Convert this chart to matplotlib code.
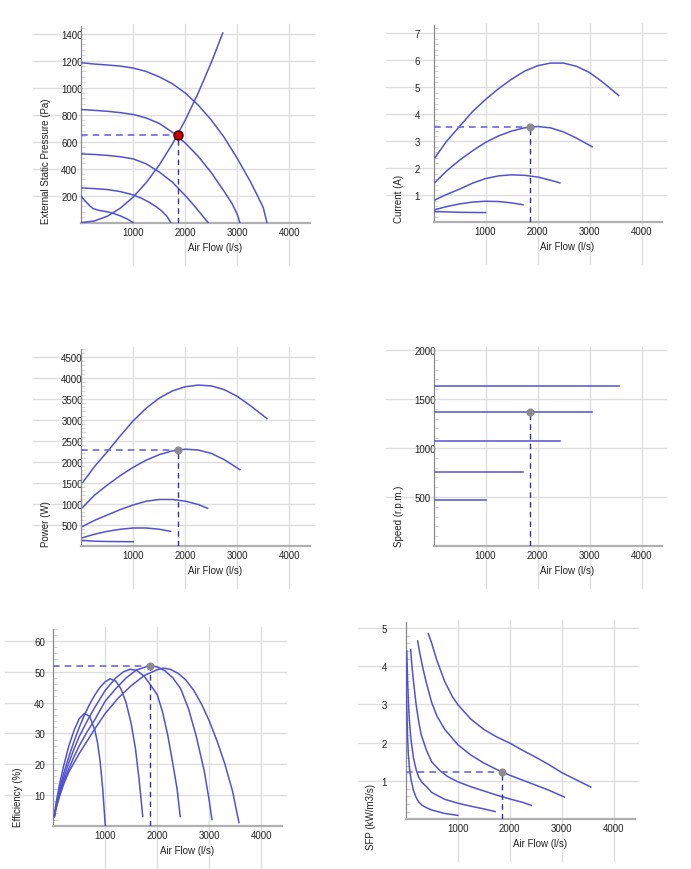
import matplotlib

matplotlib.use("Agg")
import matplotlib.pyplot as plt
from matplotlib.ticker import FixedLocator, MultipleLocator

plt.rcParams["font.family"] = ["Liberation Sans", "DejaVu Sans"]

# shared x tick values (l/s)
flow_ticks = [1000, 2000, 3000, 4000]

# --- external static pressure (Pa), five fan speeds + system curve
pressure_flow = [
    [0, 250, 500, 750, 1000, 1250, 1500, 1750, 2000, 2250, 2500, 2750, 3000, 3250, 3400, 3500, 3570],
    [0, 250, 500, 750, 1000, 1250, 1500, 1750, 2000, 2250, 2500, 2750, 2900, 3000, 3050],
    [0, 250, 500, 750, 1000, 1250, 1500, 1750, 2000, 2150, 2300, 2440],
    [0, 250, 500, 750, 1000, 1150, 1300, 1450, 1550, 1650, 1720],
    [0, 50, 100, 160, 230, 350, 490, 620, 750, 880, 1000],
]
pressure_values = [
    [1185, 1175, 1168, 1160, 1145, 1120, 1080, 1030, 960, 870, 760, 630, 475, 305, 190, 110, 0],
    [838, 832, 825, 815, 801, 775, 735, 670, 590, 490, 370, 230, 140, 60, 0],
    [509, 505, 498, 488, 472, 435, 375, 300, 200, 135, 65, 0],
    [257, 252, 245, 230, 205, 182, 152, 115, 85, 45, 0],
    [195, 170, 150, 125, 103, 90, 81, 68, 50, 27, 0],
]
system_flow = [0, 250, 500, 750, 1000, 1250, 1500, 1750, 2000, 2250, 2500, 2720]
system_pressure = [0, 12, 47, 107, 190, 297, 427, 582, 760, 962, 1187, 1405]

# --- current (A)
current_flow = [
    [30, 250, 500, 750, 1000, 1250, 1500, 1750, 2000, 2250, 2500, 2750, 3000, 3250, 3560],
    [30, 250, 500, 750, 1000, 1250, 1500, 1750, 2000, 2250, 2500, 2750, 3050],
    [30, 250, 500, 750, 1000, 1250, 1500, 1750, 2000, 2250, 2430],
    [30, 250, 500, 750, 1000, 1250, 1500, 1720],
    [30, 500, 1000],
]
current_values = [
    [2.4, 3.0, 3.55, 4.1, 4.55, 4.95, 5.3, 5.6, 5.8, 5.9, 5.9, 5.78, 5.55, 5.2, 4.7],
    [1.48, 1.9, 2.3, 2.65, 2.96, 3.2, 3.38, 3.5, 3.55, 3.5, 3.35, 3.12, 2.8],
    [0.83, 1.03, 1.23, 1.45, 1.62, 1.72, 1.76, 1.74, 1.68, 1.56, 1.46],
    [0.47, 0.58, 0.68, 0.75, 0.78, 0.77, 0.72, 0.65],
    [0.40, 0.37, 0.36],
]

# --- power (W)
power_flow = [
    [30, 250, 500, 750, 1000, 1250, 1500, 1750, 2000, 2250, 2500, 2750, 3000, 3250, 3570],
    [30, 250, 500, 750, 1000, 1250, 1500, 1750, 2000, 2250, 2500, 2750, 3050],
    [30, 250, 500, 750, 1000, 1250, 1500, 1750, 2000, 2250, 2430],
    [30, 250, 500, 750, 1000, 1250, 1500, 1720],
    [30, 250, 500, 750, 1000],
]
power_values = [
    [1510, 1880, 2240, 2620, 2980, 3280, 3520, 3690, 3790, 3830, 3810, 3720, 3560, 3340, 3030],
    [915, 1200, 1445, 1670, 1870, 2040, 2170, 2260, 2300, 2280, 2200, 2050, 1810],
    [460, 600, 730, 860, 970, 1060, 1100, 1100, 1060, 980, 890],
    [190, 270, 340, 390, 420, 420, 390, 340],
    [125, 105, 98, 95, 93],
]

# --- speed (r.p.m.)
speed_flow = [[30, 3560], [30, 3050], [30, 2430], [30, 1720], [30, 1000]]
speed_values = [[1630, 1630], [1372, 1372], [1069, 1069], [757, 757], [471, 471]]

# --- efficiency (%)
efficiency_flow = [
    [20, 60, 120, 200, 300, 400, 500, 650, 800, 1000, 1250, 1500, 1750, 2000, 2115, 2250, 2400,
     2550, 2700, 2850, 3000, 3150, 3300, 3450, 3570],
    [20, 60, 120, 200, 300, 400, 500, 650, 800, 1000, 1200, 1400, 1600, 1850, 2000, 2150, 2300,
     2450, 2600, 2750, 2900, 3000, 3050],
    [20, 60, 120, 200, 300, 400, 500, 650, 800, 1000, 1200, 1350, 1475, 1600, 1750, 1900, 2000,
     2100, 2200, 2300, 2380, 2440],
    [20, 60, 120, 200, 300, 400, 500, 600, 700, 800, 900, 1000, 1090, 1200, 1300, 1400, 1500,
     1580, 1650, 1720],
    [20, 60, 120, 200, 300, 400, 500, 600, 700, 800, 850, 900, 950, 1000],
]
efficiency_values = [
    [3, 6, 9.5, 13.5, 17.5, 20.5, 23.5, 27.5, 31.5, 36.5, 41.5, 45.5, 48.8, 50.7, 51.2, 50.8, 49.5,
     47.3, 44, 39.5, 34, 27.5, 20, 11, 1],
    [3, 6.5, 10, 14.5, 18.5, 22.5, 26, 30.5, 34.5, 40.5, 44.5, 48, 50.6, 52, 51.6, 50.3, 48,
     44.5, 38, 29, 18, 8, 2],
    [3, 7, 11, 15.5, 20.5, 25, 29, 34, 38.5, 44, 48, 50, 50.8, 50.5, 48.5, 45, 42.5,
     37, 29.5, 20, 12, 3],
    [3, 7.5, 12, 17, 22.5, 27.5, 32, 36, 39.5, 42.5, 45, 46.8, 47.7, 47, 44.5, 40, 33,
     25, 15, 3],
    [3, 8, 13.5, 19.5, 26, 31, 34.8, 36.5, 35.5, 31, 27, 21, 12, 0],
]

# --- specific fan power (kW/m3/s)
sfp_flow = [
    [435, 500, 600, 750, 900, 1000, 1250, 1500, 1750, 2000, 2250, 2500, 2750, 3000, 3250, 3560],
    [230, 270, 330, 400, 500, 600, 750, 1000, 1250, 1500, 1750, 2000, 2250, 2500, 2750, 3050],
    [96, 120, 150, 200, 250, 300, 400, 500, 650, 800, 1000, 1250, 1500, 1750, 2000, 2250, 2420],
    [20, 30, 40, 55, 70, 100, 150, 200, 250, 320, 400, 500, 750, 1000, 1250, 1500, 1720],
    [8, 14, 20, 28, 35, 50, 75, 100, 150, 200, 250, 320, 400, 500, 750, 1000],
]
sfp_values = [
    [4.85, 4.6, 4.15, 3.6, 3.2, 3.0, 2.62, 2.35, 2.15, 1.99, 1.8, 1.62, 1.43, 1.22, 1.05, 0.84],
    [4.66, 4.35, 3.95, 3.55, 3.05, 2.7, 2.35, 1.95, 1.68, 1.47, 1.3, 1.15, 1.02, 0.89, 0.76, 0.58],
    [4.43, 4.0, 3.6, 3.0, 2.55, 2.2, 1.8, 1.5, 1.28, 1.12, 0.98, 0.85, 0.74, 0.63, 0.53, 0.44, 0.36],
    [4.4, 3.95, 3.5, 3.0, 2.6, 2.1, 1.6, 1.3, 1.1, 0.95, 0.85, 0.7, 0.52, 0.42, 0.34, 0.27, 0.2],
    [4.1, 3.5, 3.0, 2.55, 2.2, 1.7, 1.3, 1.05, 0.75, 0.57, 0.45, 0.36, 0.3, 0.24, 0.15, 0.1],
]

# duty point
duty_flow = 1850
duty_pressure = 650
duty_current = 3.53
duty_power = 2280
duty_speed = 1372
duty_efficiency = 52
duty_sfp = 1.23

LINE = "#5252d0"
DASH_H = "#6a6ad8"
DASH_V = "#2f2faa"
GRID = "#dedede"

W, H = 691, 870
PX = 0.72  # points per pixel at 100 dpi


def _panel(fig, left_px, bottom_px, top, yticks, yminor, ylabel, label_gap=19, ylabel_drop=0):
    # left_px / bottom_px: pixel position of the data origin
    width_px = 228.8
    height_px = 197.0
    ax = fig.add_axes([left_px / W, 1 - bottom_px / H, width_px / W, height_px / H])
    ax.set_xlim(0, 4400)
    ax.set_ylim(0, top)
    ax.set_facecolor("none")
    for side in ("top", "right"):
        ax.spines[side].set_visible(False)
    ax.spines["left"].set_color("#8a8a8a")
    ax.spines["left"].set_linewidth(0.9)
    ax.spines["bottom"].set_color("#b0b0b0")
    ax.spines["bottom"].set_linewidth(1.6)

    ax.xaxis.set_major_locator(FixedLocator(flow_ticks))
    ax.yaxis.set_major_locator(FixedLocator(yticks))
    ax.yaxis.set_minor_locator(MultipleLocator(yminor))
    ax.tick_params(which="major", length=0, labelsize=7, colors="#222222")
    ax.tick_params(axis="x", which="major", pad=3)
    ax.tick_params(axis="y", which="major", pad=label_gap * PX)
    ax.tick_params(axis="y", which="minor", direction="in", length=3, color="#cfcfcf")
    # labels start a fixed distance left of the axis line
    for lab in ax.get_yticklabels():
        lab.set_ha("left")

    ext_b = 42 / height_px
    ext_l = 48 / width_px
    for x in flow_ticks:
        ax.axvline(x, ymin=-ext_b, ymax=1.01, color=GRID, lw=1, zorder=0, clip_on=False)
    for y in yticks:
        ax.axhline(y, xmin=-ext_l, xmax=1.015, color=GRID, lw=1, zorder=0, clip_on=False)

    ax.text(-35 / width_px, -ylabel_drop / height_px, ylabel, rotation=90, ha="center",
            va="bottom", fontsize=7, color="#222222", transform=ax.transAxes)
    ax.text(134 / width_px, -24 / height_px, "Air Flow (l/s)", ha="center", va="center",
            fontsize=7, color="#222222", transform=ax.transAxes)
    return ax


def _curves(ax, xs, ys):
    for x, y in zip(xs, ys):
        ax.plot(x, y, color=LINE, lw=1.1, solid_joinstyle="round", zorder=3)


def _duty(ax, x, y, hline=True, red=False):
    if hline:
        ax.plot([0, x], [y, y], color=DASH_H, lw=1.2, ls=(0, (4, 3)), zorder=4)
    ax.plot([x, x], [0, y], color=DASH_V, lw=1.0, ls=(0, (4, 3)), zorder=4)
    if red:
        ax.plot(x, y, "o", ms=6.5, mfc="#d00000", mec="#3a0000", mew=1, zorder=6)
    else:
        ax.plot(x, y, "o", ms=4.8, mfc="#8c8c8c", mec="#8c8c8c", zorder=6)


def main() -> None:
    fig = plt.figure(figsize=(W / 100, H / 100), dpi=100)

    ax = _panel(fig, 81.3, 223.6, 1460, [200, 400, 600, 800, 1000, 1200, 1400], 40,
                "External Static Pressure (Pa)", label_gap=20)
    _curves(ax, pressure_flow, pressure_values)
    ax.plot(system_flow, system_pressure, color=LINE, lw=1.1, zorder=3)
    _duty(ax, duty_flow, duty_pressure, red=True)

    ax = _panel(fig, 433.5, 223.3, 7.3, [1, 2, 3, 4, 5, 6, 7], 0.2, "Current (A)")
    _curves(ax, current_flow, current_values)
    _duty(ax, duty_flow, duty_current)

    ax = _panel(fig, 81.3, 546.6, 4700, [500, 1000, 1500, 2000, 2500, 3000, 3500, 4000, 4500], 100,
                "Power (W)", label_gap=20)
    _curves(ax, power_flow, power_values)
    _duty(ax, duty_flow, duty_power)

    ax = _panel(fig, 433.5, 547.0, 2010, [500, 1000, 1500, 2000], 100, "Speed (r.p.m.)")
    _curves(ax, speed_flow, speed_values)
    _duty(ax, duty_flow, duty_speed, hline=False)

    ax = _panel(fig, 53.3, 826.7, 64, [10, 20, 30, 40, 50, 60], 2, "Efficiency (%)")
    _curves(ax, efficiency_flow, efficiency_values)
    _duty(ax, duty_flow, duty_efficiency)

    ax = _panel(fig, 405.7, 820.2, 5.15, [1, 2, 3, 4, 5], 0.2, "SFP (kW/m3/s)",
                label_gap=24, ylabel_drop=30)
    _curves(ax, sfp_flow, sfp_values)
    _duty(ax, duty_flow, duty_sfp)

    fig.savefig("out.png", dpi=100, facecolor="white")
    plt.close(fig)


if __name__ == "__main__":
    main()
